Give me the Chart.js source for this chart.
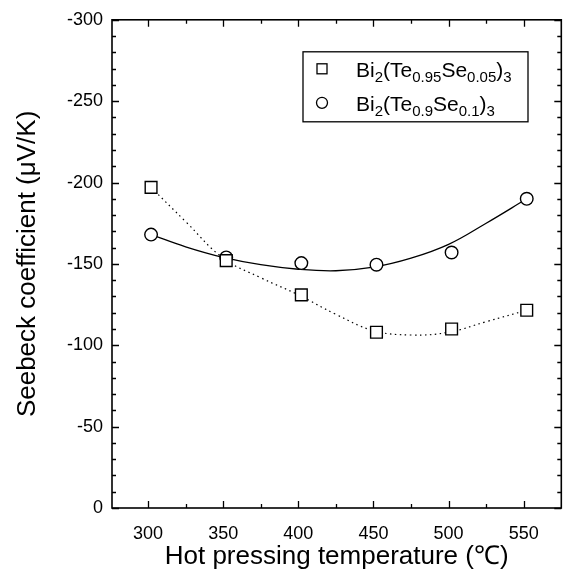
<!DOCTYPE html>
<html><head><meta charset="utf-8">
<script src="https://cdn.jsdelivr.net/npm/chart.js@4/dist/chart.umd.min.js"></script>
<style>html,body{margin:0;padding:0;background:#fff}canvas{display:block}</style>
</head><body>
<canvas id="c" width="571" height="580"></canvas>
<script>
// ---- data ----
const temperatures = [302, 352, 402, 452, 502, 552];
const seebeckSe005 = [-197, -152, -131, -108, -110, -121.5];
const seebeckSe01  = [-168, -154, -150.5, -149.5, -157, -190];

const fitTempsSe01 = [302, 325, 350, 375, 400, 425, 450, 475, 500, 525, 552];
const fitSe01      = [-168, -160.5, -154, -149.5, -146.7, -145.8, -148, -153.5, -162, -175, -190];
const fitTempsSe005 = [302, 325, 350, 375, 400, 425, 450, 475, 500, 525, 552];
const fitSe005      = [-197, -176, -153.5, -141.5, -131, -119, -109, -106.3, -108, -114.5, -121.5];

const xMajorTicks = [300, 350, 400, 450, 500, 550];
const xMinorTicks = [325, 375, 425, 475, 525];
const yMajorTicks = [-300, -250, -200, -150, -100, -50, 0];
const yMinorTicks = [-290,-280,-270,-260,-240,-230,-220,-210,-190,-180,-170,-160,-140,-130,-120,-110,-90,-80,-70,-60,-40,-30,-20,-10];

const seriesNames = ['Bi2(Te0.95Se0.05)3', 'Bi2(Te0.9Se0.1)3'];
// legend text split into [text, isSubscript]
const legendParts = [
  [['Bi',0],['2',1],['(Te',0],['0.95',1],['Se',0],['0.05',1],[')',0],['3',1]],
  [['Bi',0],['2',1],['(Te',0],['0.9',1],['Se',0],['0.1',1],[')',0],['3',1]]
];
const xTitle = 'Hot pressing temperature (\u2103)';
const yTitle = 'Seebeck coefficient (\u03BCV/K)';

const FONT = '"Liberation Sans", Arial, Helvetica, sans-serif';
Chart.defaults.font.family = FONT;
Chart.defaults.color = '#000';

const pts = (xs, ys) => xs.map((x, i) => ({x, y: ys[i]}));

const frameTicksPlugin = {
  id: 'frameTicks',
  afterDatasetsDraw(chart) {
    const {ctx, chartArea: a, scales: {x, y}} = chart;
    ctx.save();
    ctx.strokeStyle = '#000';
    ctx.lineWidth = 1.3;
    ctx.beginPath();
    const xt = (vals, len) => vals.forEach(v => {
      const p = Math.round(x.getPixelForValue(v)) + 0.5;
      ctx.moveTo(p, a.bottom); ctx.lineTo(p, a.bottom - len);
      ctx.moveTo(p, a.top); ctx.lineTo(p, a.top + len);
    });
    const yt = (vals, len) => vals.forEach(v => {
      const p = Math.round(y.getPixelForValue(v)) + 0.5;
      ctx.moveTo(a.left, p); ctx.lineTo(a.left + len, p);
      ctx.moveTo(a.right, p); ctx.lineTo(a.right - len, p);
    });
    xt(xMajorTicks, 7); xt(xMinorTicks, 4);
    yt(yMajorTicks, 7); yt(yMinorTicks, 4);
    ctx.stroke();
    ctx.lineWidth = 1.6;
    ctx.strokeRect(a.left, a.top, a.right - a.left, a.bottom - a.top);
    ctx.restore();
  }
};

const legendPlugin = {
  id: 'subLegend',
  afterDraw(chart) {
    const {ctx, chartArea: a} = chart;
    const bx = a.left + 191, by = a.top + 32, bw = 225, bh = 70;
    ctx.save();
    ctx.strokeStyle = '#000';
    ctx.lineWidth = 1.3;
    ctx.strokeRect(bx, by, bw, bh);
    const rows = [by + 17, by + 51];
    const mx = bx + 19;
    ctx.fillStyle = '#fff';
    ctx.fillRect(mx - 5, rows[0] - 5, 10, 10);
    ctx.strokeRect(mx - 5, rows[0] - 5, 10, 10);
    ctx.beginPath();
    ctx.arc(mx, rows[1], 5.5, 0, Math.PI * 2);
    ctx.fill(); ctx.stroke();
    ctx.fillStyle = '#000';
    ctx.textBaseline = 'alphabetic';
    ctx.textAlign = 'left';
    legendParts.forEach((parts, r) => {
      let tx = bx + 53;
      const base = rows[r] + 8;
      parts.forEach(([t, sub]) => {
        ctx.font = (sub ? '15px ' : '21px ') + FONT;
        ctx.fillText(t, tx, sub ? base + 5 : base);
        tx += ctx.measureText(t).width;
      });
    });
    ctx.restore();
  }
};

new Chart(document.getElementById('c'), {
  type: 'line',
  data: {
    datasets: [
      {
        label: seriesNames[0],
        data: pts(temperatures, seebeckSe005),
        showLine: false,
        pointStyle: 'rect',
        pointRadius: 8.3,
        pointBorderWidth: 1.4,
        pointBorderColor: '#000',
        pointBackgroundColor: '#fff'
      },
      {
        label: seriesNames[1],
        data: pts(temperatures, seebeckSe01),
        showLine: false,
        pointStyle: 'circle',
        pointRadius: 6.3,
        pointBorderWidth: 1.4,
        pointBorderColor: '#000',
        pointBackgroundColor: '#fff'
      },
      {
        label: 'fit ' + seriesNames[1],
        data: pts(fitTempsSe01, fitSe01),
        borderColor: '#000',
        borderWidth: 1.3,
        pointRadius: 0,
        tension: 0.4,
        fill: false
      },
      {
        label: 'fit ' + seriesNames[0],
        data: pts(fitTempsSe005, fitSe005),
        borderColor: '#000',
        borderWidth: 1.2,
        borderDash: [1.5, 3.5],
        pointRadius: 0,
        tension: 0.4,
        fill: false
      }
    ]
  },
  options: {
    responsive: false,
    animation: false,
    devicePixelRatio: 1,
    layout: {padding: {top: 15, right: 8, left: 0, bottom: 0}},
    plugins: {legend: {display: false}, tooltip: {enabled: false}},
    scales: {
      x: {
        type: 'linear',
        min: 276, max: 575,
        afterBuildTicks: s => { s.ticks = xMajorTicks.map(v => ({value: v})); },
        afterFit: s => { s.height = 72; },
        grid: {display: false, drawTicks: false},
        border: {display: false},
        ticks: {font: {size: 18}, color: '#000', padding: 15, maxRotation: 0, autoSkip: false},
        title: {display: true, text: xTitle, font: {size: 26}, color: '#000', padding: {top: 0, bottom: 8}}
      },
      y: {
        type: 'linear',
        reverse: true,
        min: -300, max: 0,
        afterBuildTicks: s => { s.ticks = yMajorTicks.map(v => ({value: v})); },
        afterFit: s => { s.width = 112; },
        grid: {display: false, drawTicks: false},
        border: {display: false},
        ticks: {font: {size: 18}, color: '#000', padding: 9, autoSkip: false},
        title: {display: true, text: yTitle, font: {size: 26}, color: '#000', padding: {top: 12, bottom: 0}}
      }
    }
  },
  plugins: [frameTicksPlugin, legendPlugin]
});
</script>
</body></html>
